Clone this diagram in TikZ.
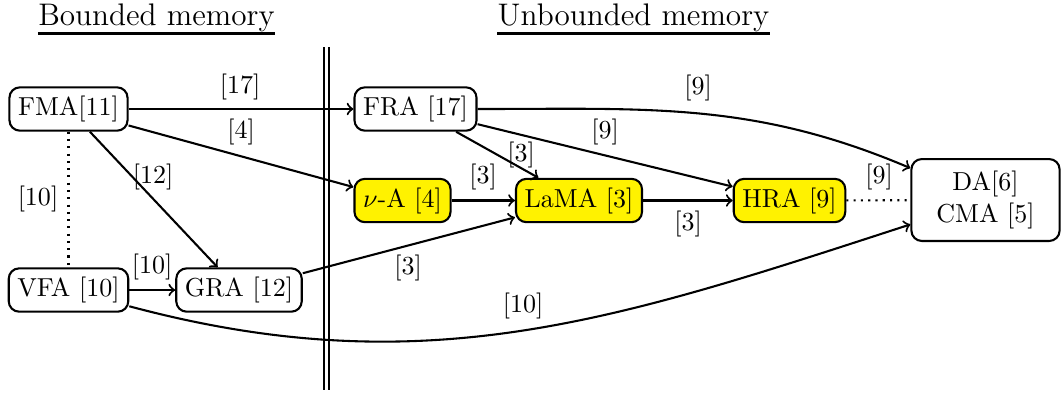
\documentclass[tikz,border=0pt]{standalone}
\begin{document}
\begin{tikzpicture}[x=0.3846pt,y=0.3846pt,
  box/.style={draw, thick, rounded corners=4pt, inner sep=3.33pt},
  hl/.style={box, fill=yellow},
  lbl/.style={inner sep=0pt},
  arr/.style={->, thick},
  dots/.style={thick, dotted}]
\useasboundingbox (0,0) rectangle (1061,-394);
% titles
\node[anchor=base, inner sep=0pt, font=\large] (tb) at (156.5,-25) {Bounded memory};
\node[anchor=base, inner sep=0pt, font=\large] (tu) at (633.5,-25) {Unbounded memory};
\draw[line width=1.1pt] ([yshift=-3.1pt]tb.base west) -- ([yshift=-3.1pt]tb.base east);
\draw[line width=1.1pt] ([yshift=-3.1pt]tu.base west) -- ([yshift=-3.1pt]tu.base east);
% separator
\draw[double, double distance=1.2pt, line width=0.9pt] (326.5,-47) -- (326.5,-390);
% nodes
\node[box] (fma) at (68.5,-109) {FMA[11]};
\node[box] (vfa) at (68.5,-290) {VFA [10]};
\node[box] (gra) at (239,-290) {GRA [12]};
\node[box] (fra) at (415.5,-109) {FRA [17]};
\node[hl] (nua) at (402.5,-200.5) {$\nu$-A [4]};
\node[hl] (lama) at (579,-200.5) {LaMA [3]};
\node[hl] (hra) at (789.5,-200.5) {HRA [9]};
\node[box, align=center, minimum width=57pt, minimum height=31.5pt] (da) at (985.5,-200) {DA[6]\\CMA [5]};
% connectors
\draw[arr] (fma) -- (fra);
\draw[arr] (fma) -- (nua);
\draw[arr] (fma) -- (gra);
\draw[dots] (fma) -- (vfa);
\draw[arr] (vfa) -- (gra);
\draw[arr] (vfa) to[out=-15,in=198] (da);
\draw[arr] (gra) -- (lama);
\draw[arr] (nua) -- (lama);
\draw[arr] (fra) -- (lama);
\draw[arr] (fra) -- (hra);
\draw[arr] (fra) to[out=0,in=157] (da);
\draw[arr] (lama) -- (hra);
\draw[dots] (hra) -- (da);
% labels
\node[lbl] (l17) at (240,-87) {[17]};
\node[lbl] (l4) at (241,-132) {[4]};
\node[lbl] (l12) at (153,-177) {[12]};
\node[lbl] (l10a) at (38,-199) {[10]};
\node[lbl] (l10b) at (152,-267) {[10]};
\node[lbl] (l3a) at (483,-177) {[3]};
\node[lbl] (l3b) at (521,-155) {[3]};
\node[lbl] (l9a) at (605,-132) {[9]};
\node[lbl] (l9b) at (698,-88) {[9]};
\node[lbl] (l3c) at (688,-224) {[3]};
\node[lbl] (l9c) at (879,-177) {[9]};
\node[lbl] (l3d) at (408,-268) {[3]};
\node[lbl] (l10c) at (523,-306) {[10]};
\end{tikzpicture}
\end{document}
